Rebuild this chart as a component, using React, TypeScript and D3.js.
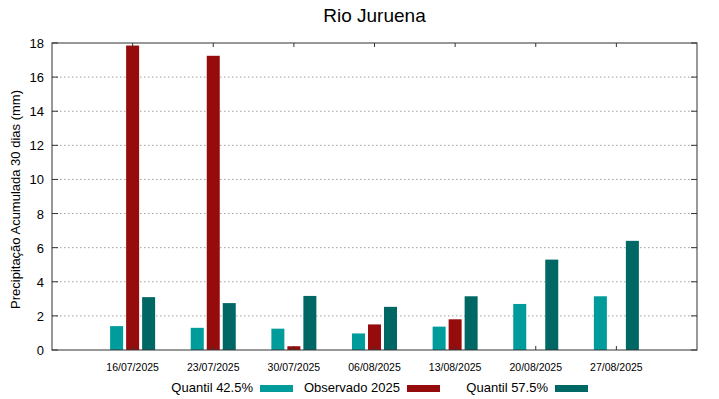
import React from 'react';
import * as d3 from 'd3';

const datas = ['16/07/2025', '23/07/2025', '30/07/2025', '06/08/2025', '13/08/2025', '20/08/2025', '27/08/2025'];
const quantil425 = [1.4, 1.3, 1.25, 0.97, 1.37, 2.7, 3.15];
const observado = [17.85, 17.25, 0.22, 1.5, 1.8, 0, 0];
const quantil575 = [3.1, 2.75, 3.17, 2.53, 3.15, 5.3, 6.4];
const yTicks = [0, 2, 4, 6, 8, 10, 12, 14, 16, 18];

const series = [
  { name: 'Quantil 42.5%', values: quantil425, color: '#009b9b', offset: -16 },
  { name: 'Observado 2025', values: observado, color: '#960c0c', offset: 0 },
  { name: 'Quantil 57.5%', values: quantil575, color: '#006864', offset: 16 },
];

const W = 719;
const H = 399;
const margin = { top: 43, right: 22, bottom: 49, left: 52 };

const App: React.FC = () => {
  const x = d3.scaleLinear().domain([0, datas.length + 1]).range([margin.left, W - margin.right]);
  const y = d3.scaleLinear().domain([0, 18]).range([H - margin.bottom, margin.top]);
  const barW = 13;
  const font = '"Liberation Sans", Arial, sans-serif';
  const x0 = margin.left;
  const x1 = W - margin.right;
  const y0 = H - margin.bottom;
  const y1 = margin.top;

  // legend layout
  const legend = [
    { textEnd: 253, sw: 260 },
    { textEnd: 400, sw: 407 },
    { textEnd: 548, sw: 555 },
  ];

  return (
    <svg width={W} height={H} style={{ position: 'absolute', left: 0, top: 0, background: '#fff' }} fontFamily={font}>
      <rect width={W} height={H} fill="#fff" />
      <text x={(x0 + x1) / 2} y={22} textAnchor="middle" fontSize={19} fill="#000">Rio Juruena</text>

      {/* grid */}
      {yTicks.filter((t) => t > 0 && t < 18).map((t) => (
        <line key={'g' + t} x1={x0} x2={x1} y1={y(t)} y2={y(t)} stroke="#a0a0a0" strokeWidth={1} strokeDasharray="1.5,2.5" />
      ))}

      {/* bars */}
      {series.map((s) =>
        s.values.map((v, i) =>
          v > 0 ? (
            <rect
              key={s.name + i}
              x={x(i + 1) + s.offset - barW / 2}
              y={y(v)}
              width={barW}
              height={y0 - y(v)}
              fill={s.color}
            />
          ) : null
        )
      )}

      {/* border */}
      <rect x={x0} y={y1} width={x1 - x0} height={y0 - y1} fill="none" stroke="#333" strokeWidth={1} />

      {/* y ticks */}
      {yTicks.map((t) => (
        <g key={'y' + t}>
          <line x1={x0} x2={x0 + 6} y1={y(t)} y2={y(t)} stroke="#333" />
          <line x1={x1} x2={x1 - 6} y1={y(t)} y2={y(t)} stroke="#333" />
          <text x={44} y={y(t) + 5} textAnchor="end" fontSize={13} fill="#000">{t}</text>
        </g>
      ))}

      {/* x ticks */}
      {datas.map((d, i) => (
        <g key={d}>
          <line x1={x(i + 1)} x2={x(i + 1)} y1={y0} y2={y0 - 4} stroke="#333" />
          <line x1={x(i + 1)} x2={x(i + 1)} y1={y1} y2={y1 + 4} stroke="#333" />
          <text x={x(i + 1)} y={371} textAnchor="middle" fontSize={10.5} fill="#000">{d}</text>
        </g>
      ))}

      <text transform={`translate(20,${(y0 + y1) / 2 + 3}) rotate(-90)`} textAnchor="middle" fontSize={13} fill="#000">
        Precipitação Acumulada 30 dias (mm)
      </text>

      {/* legend */}
      {series.map((s, i) => (
        <g key={'l' + s.name}>
          <text x={legend[i].textEnd} y={392} textAnchor="end" fontSize={13} fill="#000">{s.name}</text>
          <rect x={legend[i].sw} y={385} width={33} height={7} fill={s.color} />
        </g>
      ))}
    </svg>
  );
};

export default App;
